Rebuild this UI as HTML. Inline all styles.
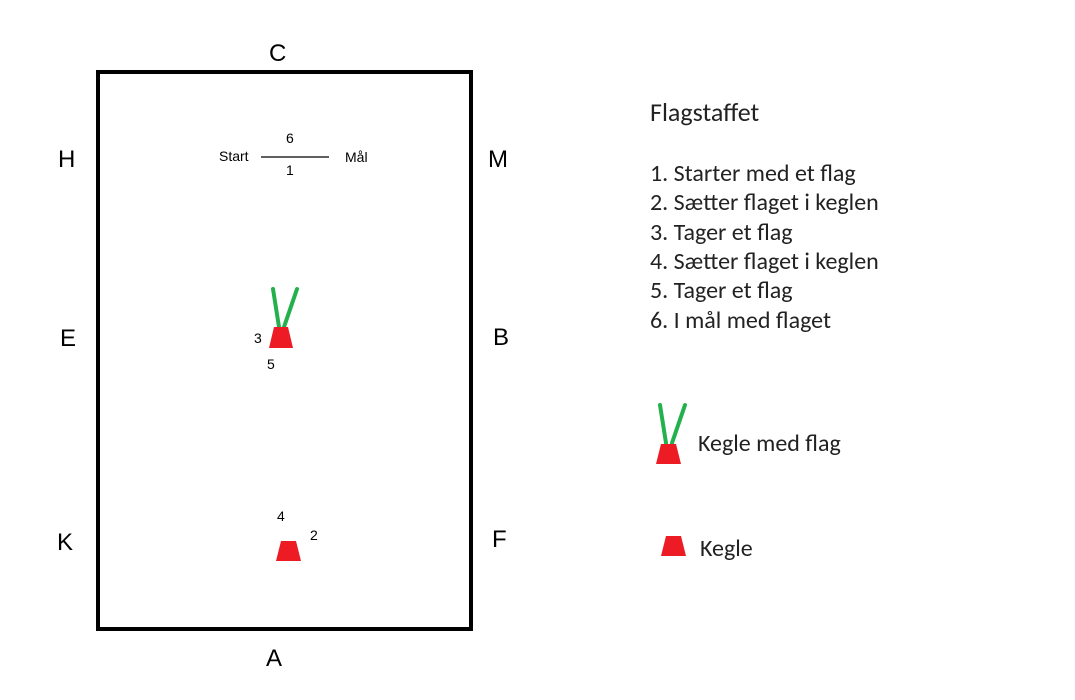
<!DOCTYPE html>
<html><head><style>html,body{margin:0;background:#fff;}</style></head><body>
<svg width="1075" height="700" xmlns="http://www.w3.org/2000/svg" style="display:block">
<rect x="98" y="72" width="373" height="557" fill="none" stroke="#000" stroke-width="4"/>
<g font-family="Liberation Sans, sans-serif" font-size="24" fill="#000">
<text x="269" y="61">C</text>
<text x="266" y="666">A</text>
<text x="58" y="167">H</text>
<text x="488" y="167">M</text>
<text x="60" y="346">E</text>
<text x="493" y="345">B</text>
<text x="57" y="550">K</text>
<text x="492" y="547">F</text>
</g>
<g font-family="Liberation Sans, sans-serif" font-size="14" fill="#000">
<text x="219" y="161">Start</text>
<text x="345" y="162">Mål</text>
<text x="286" y="143">6</text>
<text x="286" y="175">1</text>
<text x="254" y="343">3</text>
<text x="267" y="369">5</text>
<text x="277" y="521">4</text>
<text x="310" y="540">2</text>
</g>
<line x1="261" y1="157" x2="329" y2="157" stroke="#000" stroke-width="1.3"/>
<g stroke="#22b14c" stroke-width="4" stroke-linecap="round">
<line x1="273" y1="289" x2="279" y2="327"/>
<line x1="297" y1="289" x2="284" y2="327"/>
<line x1="660" y1="405" x2="666" y2="443"/>
<line x1="685" y1="405" x2="672" y2="443"/>
</g>
<g fill="#ed1c24">
<polygon points="274,327 288,327 293,348 269,348"/>
<polygon points="661,444 676,444 681,464 656,464"/>
<polygon points="281,541 296,541 301,561 276,561"/>
<polygon points="666,536 681,536 686,556 661,556"/>
</g>
<g font-family="Carlito, Liberation Sans, sans-serif" font-size="24" fill="#222">
<text x="650" y="121" font-size="26">Flagstaffet</text>
<text x="650" y="181">1. Starter med et flag</text>
<text x="650" y="210">2. Sætter flaget i keglen</text>
<text x="650" y="240">3. Tager et flag</text>
<text x="650" y="269">4. Sætter flaget i keglen</text>
<text x="650" y="298">5. Tager et flag</text>
<text x="650" y="328">6. I mål med flaget</text>
<text x="698" y="451">Kegle med flag</text>
<text x="700" y="556">Kegle</text>
</g>
</svg>
</body></html>
